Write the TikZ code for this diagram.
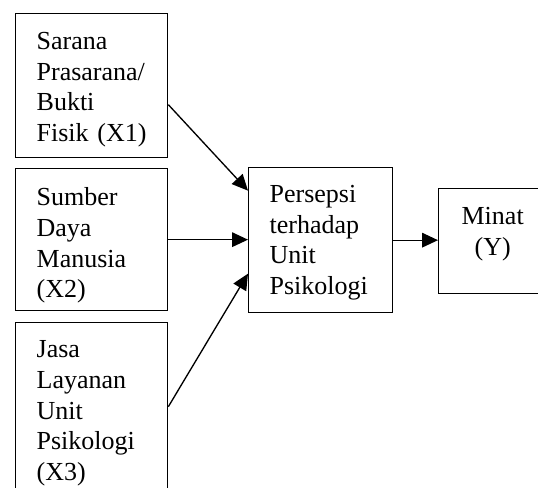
\documentclass[tikz,border=0pt]{standalone}
\usepackage{fontspec}
\setmainfont{Liberation Serif}
\usetikzlibrary{arrows.meta}

\begin{document}
\begin{tikzpicture}[x = 0.75pt, y = -0.75pt, line width = 1pt,
                    var/.style = {rectangle, draw, anchor = north west, inner ysep = 0pt,
                                  inner xsep = 15.75pt, text width = 82.5pt, align = left,
                                  font = \fontsize{19.5pt}{23pt}\selectfont},
                    link/.style = {-{Triangle[length = 12pt, width = 11pt]}}]
      \useasboundingbox (0, 0) rectangle (538, 488);

      \node [var, text height = 27pt, text depth = 81pt] (x1) at (15, 13)
            {Sarana\\Prasarana/\\Bukti\\Fisik (X1)};
      \node [var, text height = 27.75pt, text depth = 78.75pt] (x2) at (15, 168)
            {Sumber\\Daya\\Manusia\\(X2)};
      \node [var, text height = 26.25pt, text depth = 99.75pt] (x3) at (15, 322)
            {Jasa\\Layanan\\Unit\\Psikologi\\(X3)};
      \node [var, text width = 76.5pt, text height = 26.25pt, text depth = 82.5pt] (persepsi) at (248, 167)
            {Persepsi\\terhadap\\Unit\\Psikologi};
      \node [var, inner xsep = 0pt, text width = 81pt, align = center,
             text height = 27pt, text depth = 51.75pt] (minat) at (438, 188)
            {Minat\\(Y)};

      \draw [link] ([yshift = -14.25pt]x1.east) -- ([yshift = 37.125pt]persepsi.west);
      \draw [link] (x2.east) -- (x2.east -| persepsi.west);
      \draw [link] (x3.east) -- ([yshift = -25.125pt]persepsi.west);
      \draw [link] (persepsi.east) -- (persepsi.east -| minat.west);
\end{tikzpicture}
\end{document}
